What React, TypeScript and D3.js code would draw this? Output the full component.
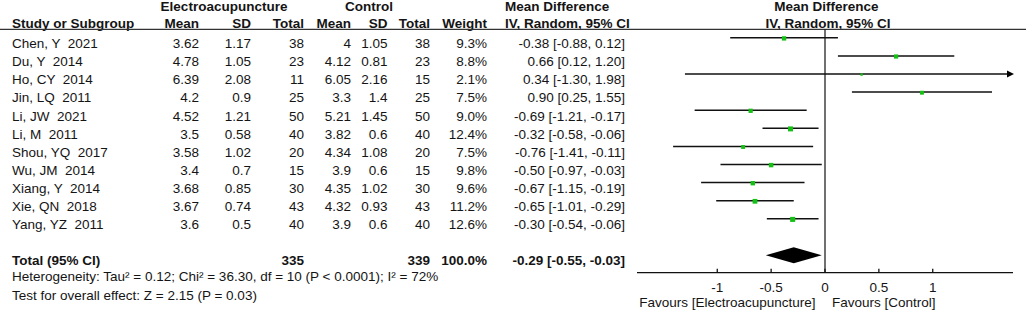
import React from "react";
import * as d3 from "d3";

const studies = ["Chen, Y  2021", "Du, Y  2014", "Ho, CY  2014", "Jin, LQ  2011", "Li, JW  2021", "Li, M  2011", "Shou, YQ  2017", "Wu, JM  2014", "Xiang, Y  2014", "Xie, QN  2018", "Yang, YZ  2011"];
const eMean = [3.62, 4.78, 6.39, 4.2, 4.52, 3.5, 3.58, 3.4, 3.68, 3.67, 3.6];
const eSD = [1.17, 1.05, 2.08, 0.9, 1.21, 0.58, 1.02, 0.7, 0.85, 0.74, 0.5];
const eTotal = [38, 23, 11, 25, 50, 40, 20, 15, 30, 43, 40];
const cMean = [4, 4.12, 6.05, 3.3, 5.21, 3.82, 4.34, 3.9, 4.35, 4.32, 3.9];
const cSD = [1.05, 0.81, 2.16, 1.4, 1.45, 0.6, 1.08, 0.6, 1.02, 0.93, 0.6];
const cTotal = [38, 23, 15, 25, 50, 40, 20, 15, 30, 43, 40];
const weight = [9.3, 8.8, 2.1, 7.5, 9.0, 12.4, 7.5, 9.8, 9.6, 11.2, 12.6];
const md = [-0.38, 0.66, 0.34, 0.9, -0.69, -0.32, -0.76, -0.5, -0.67, -0.65, -0.3];
const lo = [-0.88, 0.12, -1.3, 0.25, -1.21, -0.58, -1.41, -0.97, -1.15, -1.01, -0.54];
const hi = [0.12, 1.2, 1.98, 1.55, -0.17, -0.06, -0.11, -0.03, -0.19, -0.29, -0.06];

const totalE = 335;
const totalC = 339;
const totalWeight = 100.0;
const totalMD = -0.29;
const totalLo = -0.55;
const totalHi = -0.03;

const ticks = [-1, -0.5, 0, 0.5, 1];
const heterogeneity = "Heterogeneity: Tau\u00b2 = 0.12; Chi\u00b2 = 36.30, df = 10 (P < 0.0001); I\u00b2 = 72%";
const overall = "Test for overall effect: Z = 2.15 (P = 0.03)";

const W = 1026;
const H = 312;
const FONT = "'Liberation Sans', Arial, sans-serif";
const FS = 13.5;
const TXT = "#141414";
const GREEN = "#14c014";

export default function App() {
  const x = d3.scaleLinear().domain([-1.745, 1.745]).range([637, 1013]);
  const y = d3.scaleLinear().domain([0, 10]).range([37.8, 218.8]);
  const yTotal = 255.3;
  const axisY = 272.7;
  const [xMin, xMax] = x.domain();

  const col = { eMean: 199, eSD: 251, eTotal: 304, cMean: 351, cSD: 387.5, cTotal: 430, weight: 487, ci: 625 };
  const textOff = 10.3;
  const fmtCI = (m: number, l: number, h: number) => `${m.toFixed(2)} [${l.toFixed(2)}, ${h.toFixed(2)}]`;

  const diamond = d3.line()([
    [x(totalLo), yTotal],
    [x(totalMD), yTotal - 8],
    [x(totalHi), yTotal],
    [x(totalMD), yTotal + 8],
  ]) + "Z";

  return (
    <svg width={W} height={H} style={{ position: "absolute", left: 0, top: 0, background: "#fff" }} fontFamily={FONT} fontSize={FS} fill={TXT}>
      {/* headers */}
      <g fontWeight="bold">
        <text x={224} y={10.5} textAnchor="middle">Electroacupuncture</text>
        <text x={369} y={10.5} textAnchor="middle">Control</text>
        <text x={505} y={10.5}>Mean Difference</text>
        <text x={826.5} y={10.5} textAnchor="middle">Mean Difference</text>
        <text x={12} y={28}>Study or Subgroup</text>
        <text x={col.eMean} y={28} textAnchor="end">Mean</text>
        <text x={col.eSD} y={28} textAnchor="end">SD</text>
        <text x={col.eTotal} y={28} textAnchor="end">Total</text>
        <text x={col.cMean} y={28} textAnchor="end">Mean</text>
        <text x={col.cSD} y={28} textAnchor="end">SD</text>
        <text x={col.cTotal} y={28} textAnchor="end">Total</text>
        <text x={col.weight} y={28} textAnchor="end">Weight</text>
        <text x={505} y={28}>IV, Random, 95% CI</text>
        <text x={828} y={28} textAnchor="middle">IV, Random, 95% CI</text>
      </g>
      <line x1={0} x2={W} y1={29.3} y2={29.3} stroke="#333" strokeWidth={1.3} />

      {/* study rows */}
      {studies.map((s, i) => {
        const ty = y(i) + textOff;
        return (
          <g key={s}>
            <text x={12} y={ty} style={{ whiteSpace: "pre" }}>{s}</text>
            <text x={col.eMean} y={ty} textAnchor="end">{String(eMean[i])}</text>
            <text x={col.eSD} y={ty} textAnchor="end">{String(eSD[i])}</text>
            <text x={col.eTotal} y={ty} textAnchor="end">{String(eTotal[i])}</text>
            <text x={col.cMean} y={ty} textAnchor="end">{String(cMean[i])}</text>
            <text x={col.cSD} y={ty} textAnchor="end">{String(cSD[i])}</text>
            <text x={col.cTotal} y={ty} textAnchor="end">{String(cTotal[i])}</text>
            <text x={col.weight} y={ty} textAnchor="end">{weight[i].toFixed(1)}%</text>
            <text x={col.ci} y={ty} textAnchor="end">{fmtCI(md[i], lo[i], hi[i])}</text>
          </g>
        );
      })}

      {/* total row */}
      <g fontWeight="bold">
        <text x={12} y={yTotal + 9.7}>Total (95% CI)</text>
        <text x={col.eTotal} y={yTotal + 9.7} textAnchor="end">{String(totalE)}</text>
        <text x={col.cTotal} y={yTotal + 9.7} textAnchor="end">{String(totalC)}</text>
        <text x={col.weight} y={yTotal + 9.7} textAnchor="end">{totalWeight.toFixed(1)}%</text>
        <text x={col.ci} y={yTotal + 9.7} textAnchor="end">{fmtCI(totalMD, totalLo, totalHi)}</text>
      </g>
      <text x={12} y={281}>{heterogeneity}</text>
      <text x={12} y={299.5}>{overall}</text>

      {/* forest plot */}
      <line x1={x(0)} x2={x(0)} y1={29.3} y2={axisY} stroke="#111" strokeWidth={1.2} />
      {studies.map((s, i) => {
        const l = Math.max(lo[i], xMin);
        const h = Math.min(hi[i], xMax);
        const clippedR = hi[i] > xMax;
        const x2 = clippedR ? x(h) - 5 : x(h);
        const sz = Math.max(2.4, 1.42 * Math.sqrt(weight[i]));
        const yy = y(i);
        return (
          <g key={"ci" + s}>
            <line x1={x(l)} x2={x2} y1={yy} y2={yy} stroke="#111" strokeWidth={1.5} />
            {clippedR && (
              <path d={`M${x(h) + 1},${yy} L${x(h) - 6},${yy - 3.6} L${x(h) - 6},${yy + 3.6} Z`} fill="#000" />
            )}
            <rect x={x(md[i]) - sz / 2} y={yy + 0.6 - sz / 2} width={sz} height={sz} fill={GREEN} />
          </g>
        );
      })}
      <path d={diamond} fill="#000" />

      {/* axis */}
      <line x1={x(xMin)} x2={x(xMax)} y1={axisY} y2={axisY} stroke="#111" strokeWidth={1.3} />
      {ticks.map((t) => (
        <g key={t}>
          <line x1={x(t)} x2={x(t)} y1={axisY - 4} y2={axisY} stroke="#111" strokeWidth={1.3} />
          <text x={x(t)} y={291.5} textAnchor="middle">{String(t)}</text>
        </g>
      ))}
      <text x={815.5} y={307} textAnchor="end">Favours [Electroacupuncture]</text>
      <text x={832} y={307}>Favours [Control]</text>
    </svg>
  );
}
